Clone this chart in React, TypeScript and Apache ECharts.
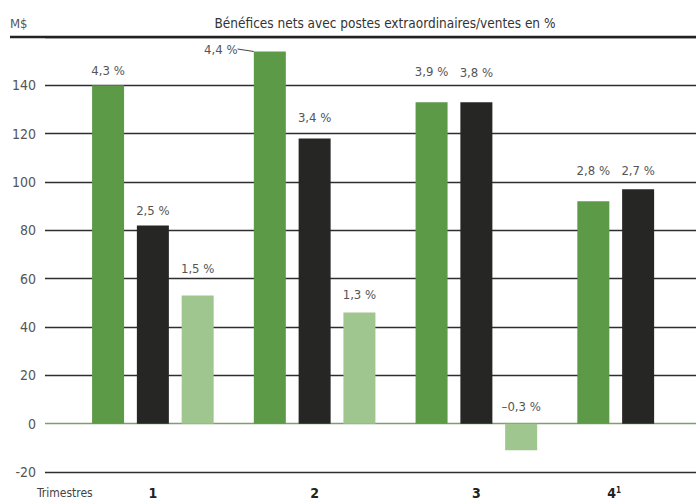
import React, { useEffect, useRef } from 'react';
import * as echarts from 'echarts';

// ---- data ----
const quarters = ['1', '2', '3', '4'];
const seriesNames = ['Série 1', 'Série 2', 'Série 3'];
const greenValues = [140, 154, 133, 92];
const blackValues = [82, 118, 133, 97];
const lightValues: (number | null)[] = [53, 46, -11, null];
const greenPct = ['4,3 %', '4,4 %', '3,9 %', '2,8 %'];
const blackPct = ['2,5 %', '3,4 %', '3,8 %', '2,7 %'];
const lightPct = ['1,5 %', '1,3 %', '–0,3 %', ''];
const yMin = -20;
const yMax = 160;
const yStep = 20;
const titleText = 'Bénéfices nets avec postes extraordinaires/ventes en %';
const unitText = 'M$';
const axisTitle = 'Trimestres';

// ---- styles ----
const FONT = "'Liberation Sans Narrow', 'DejaVu Sans Condensed', 'Roboto Condensed', Roboto, sans-serif";
const GREEN = '#5c9a48';
const BLACK = '#262624';
const LIGHT = '#9fc68e';
const greenGap = [8, 4, 24, 24];
const blackGap = [9, 15, 23, 12];
const lightGap = [21, 12, 11, 10];

export default function App() {
  const ref = useRef<HTMLDivElement>(null);
  useEffect(() => {
    if (!ref.current) return;
    const chart = echarts.init(ref.current, undefined, { renderer: 'svg' });
    const nLines = (yMax - yMin) / yStep + 1;
    const splitColors: string[] = [];
    for (let i = 0; i < nLines; i++) {
      const v = yMin + i * yStep;
      splitColors.push(v === 0 ? '#7f9f70' : '#2e2e2e');
    }
    const labelBase = {
      show: true,
      position: 'top',
      color: '#555',
      fontFamily: FONT,
      fontSize: 13,
    };
    const mk = (vals: (number | null)[], gaps: number[]) =>
      vals.map((v, i) => ({
        value: v,
        label: { distance: gaps[i] },
      }));
    const greenData: any[] = mk(greenValues, greenGap);
    greenData[1] = {
      ...greenData[1],
      labelLine: { show: true, lineStyle: { color: '#444', width: 1 } },
    };
    const option: any = {
      animation: false,
      backgroundColor: '#ffffff',
      textStyle: { fontFamily: FONT },
      grid: [
        { left: 45, right: 0, top: 37, bottom: 32, outerBoundsMode: 'none' },
        { left: 72, width: 647, top: 37, bottom: 32, outerBoundsMode: 'none' },
      ],
      xAxis: [
        { gridIndex: 0, type: 'category', data: [], show: false },
        {
          gridIndex: 1,
          type: 'category',
          data: quarters,
          axisLine: { show: false },
          axisTick: { show: false },
          axisLabel: {
            margin: 14,
            color: '#222',
            fontSize: 14,
            fontWeight: 'bold',
            fontFamily: FONT,
            formatter: (v: string, i: number) =>
              i === quarters.length - 1 ? `{b|${v}}{sup|1}` : `{b|${v}}`,
            rich: {
              b: { fontSize: 14, fontWeight: 'bold', color: '#222', fontFamily: FONT },
              sup: {
                fontSize: 8,
                color: '#222',
                verticalAlign: 'top',
                fontFamily: FONT,
                padding: [0, 48, 0, 0],
              },
            },
          },
        },
      ],
      yAxis: [
        {
          gridIndex: 0,
          type: 'value',
          min: yMin,
          max: yMax,
          interval: yStep,
          axisLine: { show: false },
          axisTick: { show: false },
          axisLabel: {
            margin: 9,
            color: '#555',
            fontSize: 14,
            fontFamily: FONT,
            formatter: (v: number) => (v === yMax ? '' : String(v)),
          },
          splitLine: { show: true, lineStyle: { color: splitColors, width: 1.3 } },
        },
        { gridIndex: 1, type: 'value', min: yMin, max: yMax, interval: yStep, show: false },
      ],
      series: [
        {
          name: seriesNames[0],
          type: 'bar',
          xAxisIndex: 1,
          yAxisIndex: 1,
          barWidth: 32,
          barGap: '40%',
          itemStyle: { color: GREEN },
          data: greenData,
          label: { ...labelBase, formatter: (p: any) => greenPct[p.dataIndex] },
          labelLayout: (p: any) => (p.dataIndex === 1 ? { dx: -49, dy: 8 } : {}),
        },
        {
          name: seriesNames[1],
          type: 'bar',
          xAxisIndex: 1,
          yAxisIndex: 1,
          barWidth: 32,
          barGap: '40%',
          itemStyle: { color: BLACK },
          data: mk(blackValues, blackGap),
          label: { ...labelBase, formatter: (p: any) => blackPct[p.dataIndex] },
        },
        {
          name: seriesNames[2],
          type: 'bar',
          xAxisIndex: 1,
          yAxisIndex: 1,
          barWidth: 32,
          barGap: '40%',
          itemStyle: { color: LIGHT },
          data: mk(lightValues, lightGap),
          label: { ...labelBase, formatter: (p: any) => lightPct[p.dataIndex] },
        },
      ],
      graphic: [
        {
          type: 'line',
          shape: { x1: 10, y1: 37, x2: 696, y2: 37 },
          style: { stroke: '#222', lineWidth: 2.5 },
          z: 10,
        },
        {
          type: 'text',
          x: 10,
          y: 23,
          style: {
            text: unitText,
            fill: '#555',
            fontSize: 13,
            fontFamily: FONT,
            textVerticalAlign: 'middle',
          },
        },
        {
          type: 'text',
          x: 385,
          y: 23,
          style: {
            text: titleText,
            fill: '#333',
            fontSize: 13.5,
            fontFamily: FONT,
            textAlign: 'center',
            textVerticalAlign: 'middle',
          },
        },
        {
          type: 'text',
          x: 37,
          y: 493,
          style: {
            text: axisTitle,
            fill: '#444',
            fontSize: 12,
            fontFamily: FONT,
            textVerticalAlign: 'middle',
          },
        },
      ],
    };
    chart.setOption(option);
    return () => chart.dispose();
  }, []);
  return (
    <div
      ref={ref}
      style={{ position: 'fixed', left: 0, top: 0, width: 696, height: 504, background: '#fff' }}
    />
  );
}
